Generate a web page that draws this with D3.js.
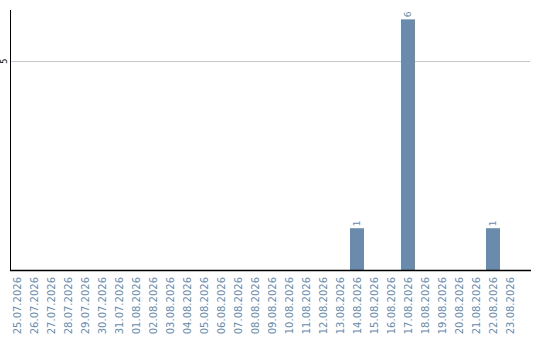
<!DOCTYPE html>
<html>
<head>
<meta charset="utf-8">
<script src="https://cdn.jsdelivr.net/npm/d3@7"></script>
<style>
  html, body { margin: 0; padding: 0; background: #fff; }
  svg { display: block; font-family: "DejaVu Sans", sans-serif; }
</style>
</head>
<body>
<svg id="chart" width="540" height="340"></svg>
<script>
// Daily counts, 25.07.2026 – 23.08.2026
const dates = [
  "25.07.2026", "26.07.2026", "27.07.2026", "28.07.2026", "29.07.2026",
  "30.07.2026", "31.07.2026", "01.08.2026", "02.08.2026", "03.08.2026",
  "04.08.2026", "05.08.2026", "06.08.2026", "07.08.2026", "08.08.2026",
  "09.08.2026", "10.08.2026", "11.08.2026", "12.08.2026", "13.08.2026",
  "14.08.2026", "15.08.2026", "16.08.2026", "17.08.2026", "18.08.2026",
  "19.08.2026", "20.08.2026", "21.08.2026", "22.08.2026", "23.08.2026"
];
const counts = [
  0, 0, 0, 0, 0,
  0, 0, 0, 0, 0,
  0, 0, 0, 0, 0,
  0, 0, 0, 0, 0,
  1, 0, 0, 6, 0,
  0, 0, 0, 1, 0
];
const yTicks = [5];

const svg = d3.select("#chart");
const barColor = "#6a8bab";

const x = d3.scaleBand()
  .domain(dates)
  .range([8.5, 518.5])
  .paddingInner(3 / 17)
  .paddingOuter(1.5 / 17);

const y = d3.scaleLinear()
  .domain([0, 6.2])
  .range([270, 11]);

// horizontal gridlines
svg.append("g")
  .selectAll("line")
  .data(yTicks)
  .join("line")
  .attr("x1", 11).attr("x2", 530)
  .attr("y1", d => Math.round(y(d)) + 0.5)
  .attr("y2", d => Math.round(y(d)) + 0.5)
  .attr("stroke", "#c8c8c8")
  .attr("stroke-width", 1);

// bars
const data = dates.map((d, i) => ({ date: d, value: counts[i] }));
svg.append("g")
  .selectAll("rect")
  .data(data.filter(d => d.value > 0))
  .join("rect")
  .attr("x", d => x(d.date))
  .attr("width", x.bandwidth())
  .attr("y", d => y(d.value))
  .attr("height", d => y(0) - y(d.value))
  .attr("fill", barColor);

// value labels, rotated above each bar
svg.append("g")
  .selectAll("text")
  .data(data.filter(d => d.value > 0))
  .join("text")
  .attr("transform", d => `translate(${x(d.date) + x.bandwidth() / 2 + 3},${y(d.value) - 2}) rotate(-90)`)
  .attr("text-anchor", "start")
  .attr("font-size", 9)
  .attr("fill", barColor)
  .text(d => d.value);

// y tick labels
svg.append("g")
  .selectAll("text")
  .data(yTicks)
  .join("text")
  .attr("transform", d => `translate(7,${y(d)}) rotate(-90)`)
  .attr("text-anchor", "middle")
  .attr("font-size", 8)
  .attr("fill", "#000")
  .text(d => d);

// x axis labels
const xAxis = d3.axisBottom(x).tickSize(0).tickPadding(0);
const gx = svg.append("g")
  .attr("transform", "translate(0,270)")
  .call(xAxis);
gx.select(".domain").remove();
gx.selectAll("text")
  .attr("transform", "rotate(-90)")
  .attr("x", -7)
  .attr("y", 0)
  .attr("dy", "0.35em")
  .attr("text-anchor", "end")
  .attr("font-size", 10)
  .attr("font-family", "DejaVu Sans, sans-serif")
  .attr("fill", barColor);

// axis lines
svg.append("line")
  .attr("x1", 10.5).attr("x2", 10.5)
  .attr("y1", 10).attr("y2", 270)
  .attr("stroke", "#000").attr("stroke-width", 1);
svg.append("line")
  .attr("x1", 10).attr("x2", 531)
  .attr("y1", 270.5).attr("y2", 270.5)
  .attr("stroke", "#000").attr("stroke-width", 1.5);
</script>
</body>
</html>
